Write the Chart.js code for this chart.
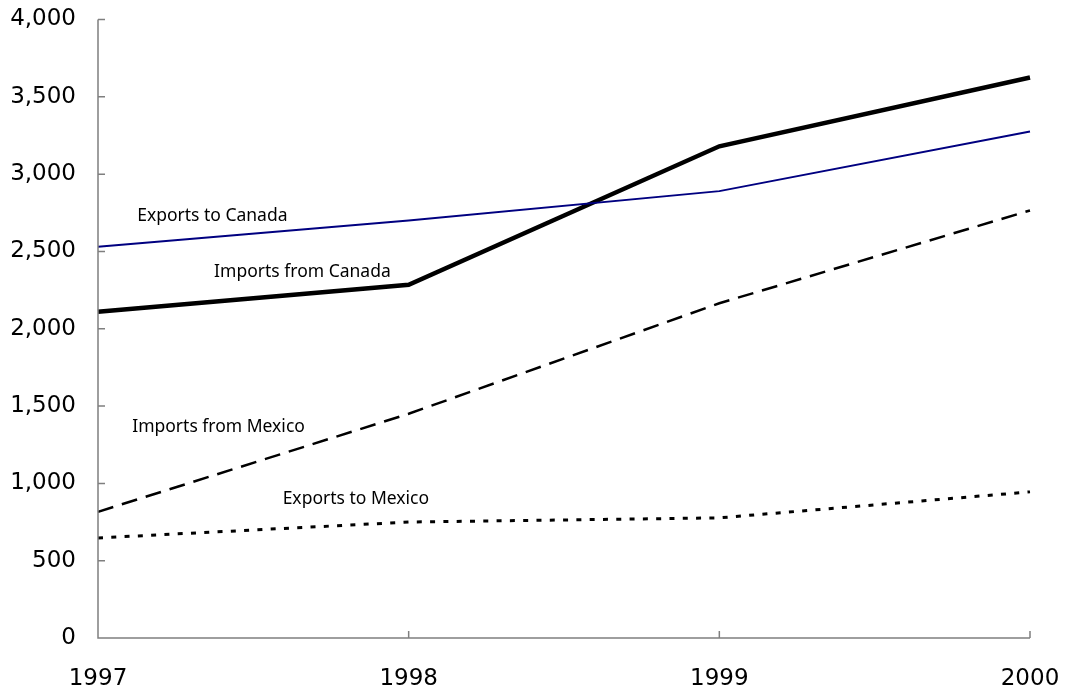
<!DOCTYPE html>
<html><head><meta charset="utf-8">
<script src="https://cdn.jsdelivr.net/npm/chart.js@4/dist/chart.umd.min.js"></script>
<style>html,body{margin:0;padding:0;background:#fff}#wrap{width:1065px;height:690px}</style>
</head><body><div id="wrap"><canvas id="c" width="1065" height="690"></canvas></div>
<script>
const years = ["1997","1998","1999","2000"];
const exportsToCanada = [2530, 2700, 2890, 3275];
const importsFromCanada = [2110, 2285, 3180, 3625];
const importsFromMexico = [816, 1450, 2165, 2765];
const exportsToMexico = [647, 750, 777, 945];
const yTicks = [0,500,1000,1500,2000,2500,3000,3500,4000];
const seriesNames = ["Exports to Canada","Imports from Canada","Imports from Mexico","Exports to Mexico"];
// label anchors in data coordinates (x as fractional category index, y value)
const labelAnchors = [[0.368, 2730],[0.658, 2370],[0.388, 1365],[0.83, 900]];

const FONT = "'DejaVu Sans', sans-serif";
const LFONT = "'Noto Sans', sans-serif";

const annot = {
  id:'annot',
  afterDatasetsDraw(chart){
    const {ctx, scales:{x,y}} = chart;
    ctx.save();
    ctx.font = "17.5px " + LFONT;
    ctx.fillStyle = "#000";
    ctx.textAlign = "center";
    ctx.textBaseline = "middle";
    seriesNames.forEach((n,i)=>{
      const a = labelAnchors[i];
      ctx.fillText(n, x.getPixelForValue(a[0]), y.getPixelForValue(a[1]));
    });
    ctx.restore();
  },
  afterDraw(chart){
    const {ctx, scales:{x,y}, chartArea} = chart;
    ctx.save();
    ctx.strokeStyle = "#7f7f7f";
    ctx.lineWidth = 1.5;
    ctx.beginPath();
    ctx.moveTo(chartArea.left, chartArea.top);
    ctx.lineTo(chartArea.left, chartArea.bottom);
    ctx.lineTo(chartArea.right, chartArea.bottom);
    y.ticks.forEach((t,i)=>{
      const py = y.getPixelForTick(i);
      ctx.moveTo(chartArea.left, py); ctx.lineTo(chartArea.left+7, py);
    });
    x.ticks.forEach((t,i)=>{
      const px = x.getPixelForTick(i);
      ctx.moveTo(px, chartArea.bottom); ctx.lineTo(px, chartArea.bottom-7);
    });
    ctx.stroke();
    ctx.restore();
  }
};

new Chart(document.getElementById('c'), {
  type:'line',
  data:{
    labels: years,
    datasets:[
      {label:seriesNames[0], data:exportsToCanada, borderColor:'#000080', borderWidth:2, pointRadius:0, tension:0},
      {label:seriesNames[1], data:importsFromCanada, borderColor:'#000', borderWidth:4.5, pointRadius:0, tension:0},
      {label:seriesNames[2], data:importsFromMexico, borderColor:'#000', borderWidth:2.5, borderDash:[16,9], pointRadius:0, tension:0},
      {label:seriesNames[3], data:exportsToMexico, borderColor:'#000', borderWidth:3, borderDash:[5,8.3], pointRadius:0, tension:0}
    ]
  },
  options:{
    responsive:false, animation:false,
    layout:{padding:{top:19.5, right:35, left:0, bottom:0}},
    plugins:{legend:{display:false}, tooltip:{enabled:false}},
    scales:{
      x:{
        offset:false,
        grid:{display:false, drawTicks:false},
        border:{display:false},
        ticks:{font:{family:FONT, size:23}, color:'#000', padding:27, maxRotation:0, autoSkip:false},
        afterFit(s){ s.height = 52; s.paddingLeft = 0; s.paddingRight = 0; }
      },
      y:{
        min:0, max:4000,
        afterBuildTicks(s){ s.ticks = yTicks.map(v=>({value:v})); },
        grid:{display:false, drawTicks:false},
        border:{display:false},
        ticks:{font:{family:FONT, size:23}, color:'#000', padding:22,
          callback:v=>v.toLocaleString('en-US')},
        afterFit(s){ s.width = 98; s.paddingTop = 0; s.paddingBottom = 0; }
      }
    }
  },
  plugins:[annot]
});
</script></body></html>
